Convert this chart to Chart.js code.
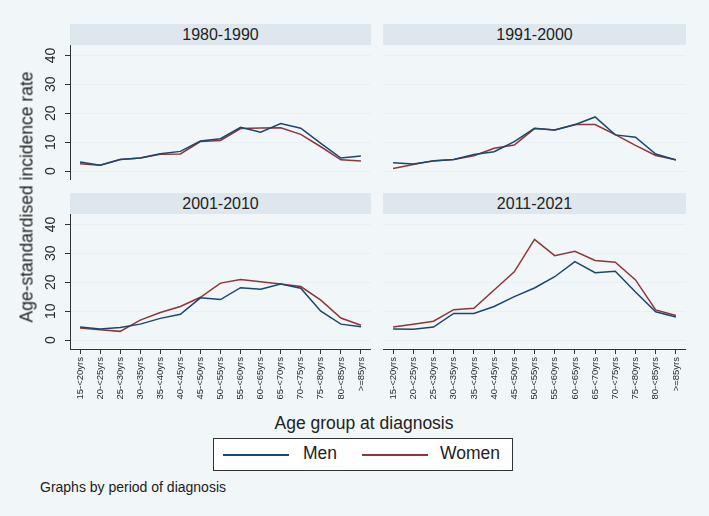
<!DOCTYPE html>
<html>
<head>
<meta charset="utf-8">
<script src="https://cdn.jsdelivr.net/npm/chart.js@4/dist/chart.umd.min.js"></script>
<style>
    body { margin: 0; background: #f1f6f8; font-family: "Liberation Sans", Arial, sans-serif; }
    #page { position: relative; width: 709px; height: 516px; background: #f1f6f8; overflow: hidden; }
    .panel { position: absolute; }
    .strip { position: absolute; height: 21px; line-height: 21px; background: #dde7ed; color: #222;
             font-size: 16px; text-align: center; }
    .ytitle { position: absolute; left: 27px; top: 197px; transform: translate(-50%, -50%) rotate(-90deg);
              white-space: nowrap; font-size: 17.5px; color: #222; }
    .xtitle { position: absolute; left: 364px; top: 423px; transform: translate(-50%, -50%);
              white-space: nowrap; font-size: 17.5px; color: #222; }
    .legend { position: absolute; left: 213px; top: 438px; width: 298px; height: 31px; background: #fff;
              border: 1px solid #333; font-size: 17.5px; color: #222; }
    .legend .line { position: absolute; top: 15px; width: 66px; height: 2px; }
    .legend .lab { position: absolute; top: 4px; }
    .note { position: absolute; left: 40px; top: 479px; font-size: 14px; color: #222; white-space: nowrap; }
</style>
</head>
<body>
<div id="page">
    <div class="strip" style="left:70px; top:24px; width:301px;">1980-1990</div>
    <div class="strip" style="left:383px; top:24px; width:303px;">1991-2000</div>
    <div class="strip" style="left:70px; top:193px; width:301px;">2001-2010</div>
    <div class="strip" style="left:383px; top:193px; width:303px;">2011-2021</div>

    <canvas id="p1980" class="panel" width="341" height="135" style="left:30px; top:45px;"></canvas>
    <canvas id="p1991" class="panel" width="303" height="135" style="left:383px; top:45px;"></canvas>
    <canvas id="p2001" class="panel" width="341" height="195" style="left:30px; top:214px;"></canvas>
    <canvas id="p2011" class="panel" width="303" height="195" style="left:383px; top:214px;"></canvas>

    <div class="ytitle">Age-standardised incidence rate</div>
    <div class="xtitle">Age group at diagnosis</div>
    <div class="legend">
        <div class="line" style="left:9px; background:#1a476f;"></div>
        <div class="lab" style="left:89px;">Men</div>
        <div class="line" style="left:148px; background:#90353b;"></div>
        <div class="lab" style="left:226px;">Women</div>
    </div>
    <div class="note">Graphs by period of diagnosis</div>
</div>

<script>
// =========================================================================
// DATA
// =========================================================================

const ageGroups = ['15-<20yrs','20-<25yrs','25-<30yrs','30-<35yrs','35-<40yrs','40-<45yrs','45-<50yrs',
                   '50-<55yrs','55-<60yrs','60-<65yrs','65-<70yrs','70-<75yrs','75-<80yrs','80-<85yrs','>=85yrs'];

const yTicks = [0, 10, 20, 30, 40];

const men1980   = [3.1, 2.0, 4.0, 4.5, 6.0, 6.8, 10.4, 11.2, 15.1, 13.4, 16.4, 14.8, 9.6, 4.5, 5.2];
const women1980 = [2.5, 2.0, 4.0, 4.5, 5.8, 5.9, 10.2, 10.6, 14.7, 14.9, 15.0, 12.7, 8.4, 3.9, 3.5];

const men1991   = [2.9, 2.4, 3.5, 4.0, 5.7, 6.7, 10.2, 14.8, 14.2, 16.0, 18.7, 12.5, 11.7, 5.9, 3.8];
const women1991 = [0.9, 2.3, 3.6, 4.0, 5.3, 7.9, 9.0, 14.7, 14.2, 16.1, 16.1, 12.6, 8.9, 5.4, 3.9];

const men2001   = [4.5, 3.8, 4.3, 5.5, 7.5, 8.9, 14.6, 14.0, 18.1, 17.6, 19.4, 17.9, 10.0, 5.5, 4.6];
const women2001 = [4.2, 3.6, 3.0, 6.9, 9.5, 11.6, 14.8, 19.7, 20.9, 20.2, 19.4, 18.5, 13.8, 7.6, 5.1];

const men2011   = [3.8, 3.7, 4.5, 9.2, 9.2, 11.6, 15.0, 18.0, 21.9, 27.1, 23.3, 23.8, 16.6, 9.8, 8.0];
const women2011 = [4.5, 5.5, 6.5, 10.5, 11.0, 17.3, 23.6, 34.8, 29.2, 30.7, 27.5, 26.9, 20.8, 10.4, 8.5];

// =========================================================================
// PANELS
// =========================================================================

const colors = {
    men: '#1a476f',
    women: '#90353b',
    axis: '#333333',
    grid: '#e9f0f3',
    text: '#2b2b2b'
};

// Rotated tick labels make Chart.js reserve extra padding; panels must line up exactly
function noPadding(s) {
    s.paddingTop = 0;
    s.paddingBottom = 0;
    s.paddingLeft = 0;
    s.paddingRight = 0;
}

function makePanel(id, men, women, showY, showX) {
    const ctx = document.getElementById(id).getContext('2d');
    return new Chart(ctx, {
        type: 'line',
        data: {
            labels: ageGroups,
            datasets: [
                { label: 'Men', data: men, borderColor: colors.men, borderWidth: 1.5, pointRadius: 0, tension: 0 },
                { label: 'Women', data: women, borderColor: colors.women, borderWidth: 1.5, pointRadius: 0, tension: 0 }
            ]
        },
        options: {
            responsive: false,
            animation: false,
            devicePixelRatio: 1,
            layout: { padding: 0 },
            plugins: {
                legend: { display: false },
                tooltip: { enabled: false }
            },
            scales: {
                x: {
                    type: 'category',
                    offset: true,
                    display: showX,
                    // bottom row keeps room for the rotated age labels, top row none
                    afterFit: (s) => { s.height = showX ? 60 : 0; noPadding(s); },
                    border: { display: true, color: colors.axis, width: 1 },
                    grid: { drawOnChartArea: false, offset: false, drawTicks: true, tickLength: 5, tickColor: colors.axis },
                    ticks: {
                        autoSkip: false, minRotation: 90, maxRotation: 90, padding: 3,
                        color: colors.text, font: { family: 'Liberation Sans', size: 9.5 }
                    }
                },
                y: {
                    min: -3.1,
                    max: 43.6,
                    afterBuildTicks: (s) => { s.ticks = yTicks.map(v => ({ value: v })); },
                    afterFit: (s) => { s.width = showY ? 40 : 0; noPadding(s); },
                    border: { display: showY, color: colors.axis, width: 1 },
                    grid: { color: colors.grid, drawTicks: showY, tickLength: 5, tickColor: colors.axis },
                    ticks: {
                        display: showY, minRotation: 90, maxRotation: 90, crossAlign: 'center', padding: 6,
                        color: colors.text, font: { family: 'Liberation Sans', size: 14 }
                    }
                }
            }
        }
    });
}

makePanel('p1980', men1980, women1980, true, false);
makePanel('p1991', men1991, women1991, false, false);
makePanel('p2001', men2001, women2001, true, true);
makePanel('p2011', men2011, women2011, false, true);
</script>
</body>
</html>
